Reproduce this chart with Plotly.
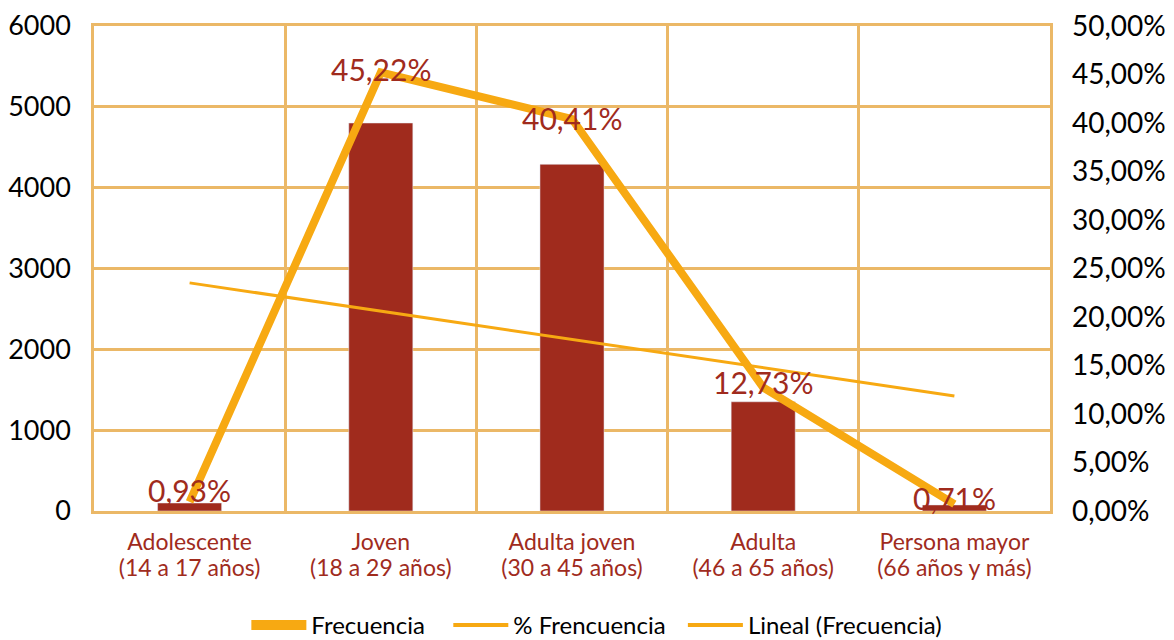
import numpy as np
import plotly.graph_objects as go

grupos = ["Adolescente", "Joven", "Adulta joven", "Adulta", "Persona mayor"]
rangos = ["(14 a 17 años)", "(18 a 29 años)", "(30 a 45 años)", "(46 a 65 años)", "(66 años y más)"]
frecuencia = [99, 4800, 4289, 1351, 75]
porcentaje = [0.0093, 0.4522, 0.4041, 0.1273, 0.0071]
etiqueta_yshift = [12, 3, 1, 6, 6]

BAR = "#A02B1D"
ORANGE = "#F7A912"
GRID = "#EBB867"
FONT = "Lato"
NB = "\u00a0"

x = np.arange(1, len(grupos) + 1)
coef = np.polyfit(x, frecuencia, 1)
tendencia = np.polyval(coef, x)
textos = [f"{v*100:.2f}%".replace(".", ",") for v in porcentaje]

fig = go.Figure()
fig.add_trace(go.Bar(x=x, y=frecuencia, marker_color=BAR, width=0.335, showlegend=False, name="Frecuencia"))
fig.add_trace(go.Scatter(x=x, y=tendencia, mode="lines", line=dict(color=ORANGE, width=3),
                         name="Lineal (Frecuencia)", showlegend=False))
fig.add_trace(go.Scatter(x=x, y=porcentaje, yaxis="y2", mode="lines",
                         line=dict(color=ORANGE, width=8), name="% Frencuencia", showlegend=False))
# second line of category labels
fig.add_trace(go.Scatter(x=x, y=[None] * len(x), xaxis="x3", mode="lines", showlegend=False,
                         hoverinfo="skip"))
# legend entries
fig.add_trace(go.Scatter(x=[None], y=[None], mode="lines", line=dict(color=ORANGE, width=13),
                         name="Frecuencia" + NB * 3))
fig.add_trace(go.Scatter(x=[None], y=[None], mode="lines", line=dict(color=ORANGE, width=4),
                         name="% Frencuencia" + NB * 2))
fig.add_trace(go.Scatter(x=[None], y=[None], mode="lines", line=dict(color=ORANGE, width=4),
                         name="Lineal (Frecuencia)"))

for xi, yi, t, ys in zip(x, porcentaje, textos, etiqueta_yshift):
    fig.add_annotation(x=xi, y=yi, xref="x", yref="y2", text=t, showarrow=False, yshift=ys,
                       font=dict(color=BAR, size=30, family=FONT))

fig.update_layout(
    width=1174, height=640,
    margin=dict(l=94, r=124, t=26, b=129, autoexpand=False),
    paper_bgcolor="white", plot_bgcolor="white",
    barmode="overlay",
    separators=",.",
    font=dict(family=FONT, size=24, color="black"),
    xaxis=dict(range=[0.5, 5.5], tickvals=list(x), ticktext=grupos, showgrid=False,
               tickfont=dict(color=BAR, size=23, family=FONT), automargin=False,
               showline=True, mirror=True, linecolor=GRID, linewidth=2.5, ticks="",
               ticklabelstandoff=9,
               minor=dict(tick0=0.5, dtick=1, showgrid=True, gridcolor=GRID, gridwidth=2.5, ticks=""),
               zeroline=False),
    xaxis3=dict(range=[0.5, 5.5], tickvals=list(x), ticktext=rangos, showgrid=False,
                overlaying="x", anchor="y", side="bottom", showline=False, zeroline=False,
                tickfont=dict(color=BAR, size=23, family=FONT), automargin=False,
                ticks="", ticklabelstandoff=41),
    yaxis=dict(range=[0, 6000], dtick=1000, showgrid=True, gridcolor=GRID, gridwidth=2.5,
               showline=True, mirror=True, linecolor=GRID, linewidth=2.5, zeroline=False,
               automargin=False, tickfont=dict(size=27, family=FONT), ticklabelstandoff=15),
    yaxis2=dict(range=[0, 0.5], dtick=0.05, tickformat=".2%", overlaying="y", side="right",
                automargin=False, showgrid=False, zeroline=False,
                tickfont=dict(size=28, family=FONT), ticklabelstandoff=21),
    legend=dict(orientation="h", x=0.526, xanchor="center", y=-0.236, yanchor="middle",
                font=dict(size=24, family=FONT), itemwidth=55, tracegroupgap=0),
)

fig.write_html("out.html", config={"displayModeBar": False},
               post_script="document.body.style.margin='0px';")
